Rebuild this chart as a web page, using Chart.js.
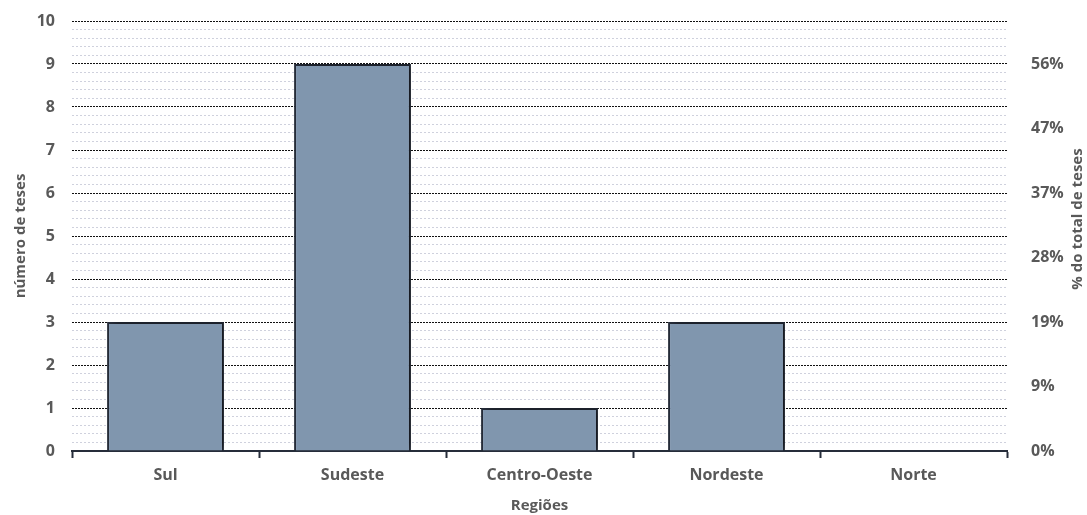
<!DOCTYPE html>
<html>
<head>
<meta charset="utf-8">
<script src="https://cdn.jsdelivr.net/npm/chart.js@4"></script>
<style>
  html, body { margin: 0; padding: 0; background: #fff; }
  #wrap { width: 1087px; height: 515px; }
</style>
</head>
<body>
<div id="wrap"><canvas id="regioesChart"></canvas></div>
<script>
// dados do gráfico
const regioes = ["Sul", "Sudeste", "Centro-Oeste", "Nordeste", "Norte"];
const numeroTeses = [3, 9, 1, 3, 0];
const percentTickValues = [0, 1.5, 3, 4.5, 6, 7.5, 9];
const percentTickLabels = ["0%", "9%", "19%", "28%", "37%", "47%", "56%"];

const textColor = "#595959";
const tickFont = { family: "Open Sans", size: 16, weight: "bold" };
const titleFont = { family: "Open Sans", size: 15, weight: "bold" };

const isInteger = v => Math.abs(v - Math.round(v)) < 1e-6;

// sombra das barras
const barShadow = {
  id: "barShadow",
  beforeDatasetsDraw(chart) {
    const ctx = chart.ctx;
    ctx.save();
    ctx.shadowColor = "rgba(0,0,0,0.45)";
    ctx.shadowBlur = 8;
    ctx.shadowOffsetX = 5;
    ctx.shadowOffsetY = -2;
  },
  afterDatasetsDraw(chart) {
    chart.ctx.restore();
  }
};

// título do eixo direito (lido de baixo para cima)
const rightTitle = {
  id: "rightTitle",
  afterDraw(chart) {
    const ctx = chart.ctx;
    ctx.save();
    ctx.translate(1078, 219);
    ctx.rotate(-Math.PI / 2);
    ctx.font = "bold 15px 'Open Sans'";
    ctx.fillStyle = textColor;
    ctx.textAlign = "center";
    ctx.textBaseline = "middle";
    ctx.fillText("% do total de teses", 0, 0);
    ctx.restore();
  }
};

const ctx = document.getElementById("regioesChart").getContext("2d");

new Chart(ctx, {
  type: "bar",
  data: {
    labels: regioes,
    datasets: [
      {
        label: "número de teses",
        data: numeroTeses,
        backgroundColor: "#8096ae",
        borderColor: "#262d3a",
        borderWidth: 2,
        borderSkipped: "bottom",
        categoryPercentage: 0.625,
        barPercentage: 1
      }
    ]
  },
  options: {
    responsive: true,
    maintainAspectRatio: false,
    animation: false,
    layout: { padding: { top: 21, left: 0, right: 0, bottom: 0 } },
    plugins: {
      legend: { display: false },
      tooltip: { enabled: false }
    },
    scales: {
      x: {
        grid: {
          display: true,
          drawOnChartArea: false,
          drawTicks: true,
          offset: true,
          tickLength: 7,
          tickWidth: 2,
          tickColor: "#262d3a"
        },
        border: { display: true, color: "#262d3a", width: 2 },
        ticks: { color: textColor, font: tickFont, padding: 8 },
        title: {
          display: true,
          text: "Regiões",
          color: textColor,
          font: titleFont,
          padding: { top: 0, bottom: 0 }
        },
        afterFit(scale) { scale.height = 64; }
      },
      y: {
        position: "left",
        min: 0,
        max: 10,
        grid: {
          drawTicks: true,
          tickLength: 14,
          tickColor: "rgba(0,0,0,0)",
          lineWidth: 1,
          color: c => isInteger(c.tick.value) ? "#111111" : "#cfd1dd"
        },
        border: {
          display: false,
          dash: c => isInteger(c.tick.value) ? [2, 1] : [2, 2]
        },
        ticks: {
          stepSize: 0.2,
          autoSkip: false,
          color: textColor,
          font: tickFont,
          padding: 3,
          callback: v => isInteger(v) ? String(Math.round(v)) : ""
        },
        title: {
          display: true,
          text: "número de teses",
          color: textColor,
          font: titleFont,
          padding: { top: 12 }
        },
        afterFit(scale) { scale.width = 72; }
      },
      y2: {
        position: "right",
        min: 0,
        max: 10,
        grid: {
          display: true,
          drawOnChartArea: false,
          drawTicks: true,
          tickLength: 21,
          tickColor: "rgba(0,0,0,0)"
        },
        border: { display: false },
        afterBuildTicks(scale) {
          scale.ticks = percentTickValues.map(v => ({ value: v }));
        },
        ticks: {
          autoSkip: false,
          color: textColor,
          font: tickFont,
          padding: 3,
          callback: (v, i) => percentTickLabels[i]
        },
        afterFit(scale) { scale.width = 80; }
      }
    }
  },
  plugins: [barShadow, rightTitle]
});
</script>
</body>
</html>
